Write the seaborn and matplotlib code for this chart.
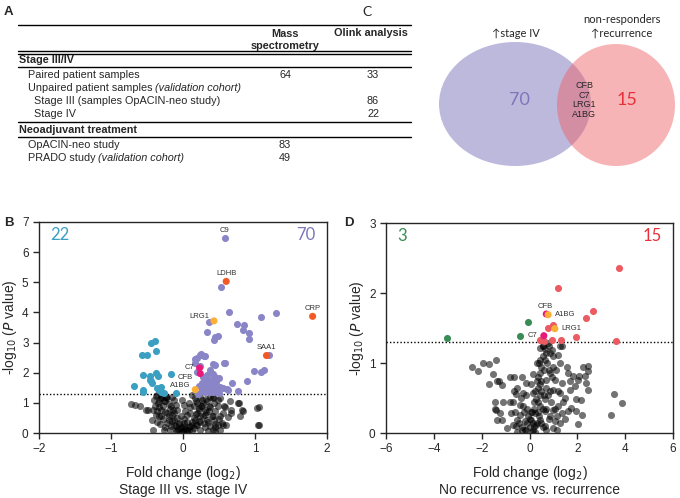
import numpy as np
import pandas as pd
import matplotlib
matplotlib.use('Agg')
import matplotlib.pyplot as plt
import seaborn as sns
from matplotlib.patches import Ellipse
from matplotlib.lines import Line2D

sns.set_style('ticks')
plt.rcParams['font.family'] = ['Liberation Sans', 'DejaVu Sans']

# ---------------- data ----------------
# table (panel A)
tbl_rows = ['Paired patient samples', 'Unpaired patient samples', 'Stage III (samples OpACIN-neo study)',
            'Stage IV', 'OpACIN-neo study', 'PRADO study']
tbl_ms = ['64', '', '', '', '83', '49']
tbl_olink = ['33', '', '86', '22', '', '']

# venn (panel C)
venn_counts = [70, 15]
venn_shared = ['CFB', 'C7', 'LRG1', 'A1BG']

# panel B: stage III vs stage IV
b_grey_x = [-0.72, -0.66, -0.51, -0.41, -0.40, -0.36, -0.29, -0.01, 0.13, 0.24, 0.38, 0.52, 0.65, 0.76, 0.84,
            0.79, 1.03, 1.04, 0.62, 0.43, 0.38, 0.52, 0.54, 0.31, -0.41, -0.36, -0.31, -0.22, -0.13, -0.10,
            -0.03, 0.03, 0.06, 0.10, 0.15, 0.20, 0.24, 0.29, 0.34, 0.48, 0.66, 0.24, -0.27, -0.22, -0.17,
            -0.13, -0.27, -0.31, -0.08, -0.03, 0.01, 0.00, 0.08, 0.13, 0.17, 0.20, 0.27, 0.36, 0.43, 0.45,
            0.52, 0.48, 0.41, -0.15, -0.10, -0.22, 0.03, 0.08, -0.06, 0.17, 0.27, 0.15, 0.34, -0.43, -0.34,
            -0.20, -0.17, -0.08, 0.01, 0.05, 0.10, 0.20, 0.24, 0.31, 0.41, 0.36, 0.22, -0.36, -0.39, -0.34,
            -0.60, -0.49, -0.37, -0.31, -0.23, 0.01, -0.14, 0.78, 0.82, 1.06, 1.06, 0.66, 0.57, 0.48, 0.41,
            0.55, 0.45,
            -0.30, -0.25, -0.20, -0.28, -0.18, -0.25, -0.12, -0.20, -0.08, -0.15, -0.05, -0.12, -0.02, -0.07,
            0.00, -0.03, -0.10, -0.18, -0.25, -0.32, -0.28, -0.38, -0.33, -0.23, -0.15, -0.35,
            0.05, 0.08, 0.12, 0.15, 0.18, 0.22, 0.25, 0.28, 0.32, 0.12, 0.18, 0.22, 0.28, 0.32, 0.38, 0.42,
            0.30, 0.35, 0.40, 0.45, 0.50, 0.55, 0.58, 0.18, 0.10, 0.05, 0.02, 0.35, 0.45, 0.60]
b_grey_y = [0.96, 0.94, 0.75, 0.75, 1.10, 1.27, 1.27, 1.10, 1.27, 1.21, 1.21, 1.16, 1.05, 0.99, 0.72,
            0.57, 0.83, 0.28, 0.53, 0.44, 0.22, 0.11, 0.33, 0.77, 0.11, 0.38, 0.55, 0.66, 0.44, 0.22,
            0.16, 0.13, 0.38, 0.66, 0.88, 0.99, 0.55, 0.33, 1.05, 0.88, 0.77, 0.11, 0.11, 0.33, 0.88,
            1.10, 1.05, 0.77, 0.77, 0.55, 0.33, 0.05, 0.11, 0.28, 0.44, 0.66, 0.88, 0.72, 0.99, 0.72,
            0.55, 0.28, 0.11, 0.61, 0.94, 1.16, 0.72, 0.99, 0.33, 1.16, 1.10, 0.16, 0.44, 0.44, 0.55,
            0.44, 0.22, 0.11, 0.22, 0.05, 0.22, 0.28, 0.38, 0.61, 0.55, 0.88, 0.83, 0.72, 0.88, 1.05,
            0.88, 0.75, 1.24, 1.21, 1.21, 0.94, 0.77, 0.99, 0.77, 0.86, 0.26, 0.68, 0.90, 1.10, 1.19,
            0.28, 0.20,
            1.15, 1.05, 0.95, 0.90, 0.80, 0.70, 0.65, 0.55, 0.50, 0.40, 0.30, 0.25, 0.20, 0.12,
            0.08, 0.02, 0.05, 0.10, 0.20, 0.30, 0.45, 0.60, 0.85, 1.18, 1.20, 1.00,
            0.10, 0.20, 0.35, 0.50, 0.62, 0.75, 0.90, 1.00, 1.12, 0.05, 0.25, 0.40, 0.55, 0.70, 0.85, 1.15,
            0.20, 0.35, 0.55, 0.30, 0.45, 0.65, 0.85, 1.05, 0.85, 0.60, 0.45, 0.05, 0.05, 0.25]
b_down_x = [-0.39, -0.45, -0.37, -0.57, -0.50, -0.55, -0.46, -0.38, -0.35, -0.46, -0.44, -0.16, -0.68,
            -0.55, -0.36, -0.31, -0.33, -0.10, -0.31, -0.43, -0.27, -0.56]
b_down_y = [3.06, 2.98, 2.73, 2.60, 2.60, 1.91, 1.88, 1.99, 1.90, 1.77, 1.71, 1.97, 1.55,
            1.41, 1.49, 1.53, 1.41, 1.33, 1.35, 1.66, 1.33, 1.36]
b_up_x = [0.58, 0.53, 0.64, 0.36, 1.08, 1.29, 0.75, 0.85, 0.83, 0.92, 0.91, 0.34, 0.45, 0.49, 0.43,
          0.25, 0.29, 0.17, 0.17, 0.41, 0.57, 0.24, 0.37, 0.19, 0.42, 0.45, 0.50, 0.33, 0.99, 1.08,
          1.13, 0.89, 0.68, 0.61, 0.77, 0.27, 0.34, 0.27, 0.37, 0.43, 0.48, 0.31, 0.41, 0.52, 1.20,
          0.20, 0.24, 0.30, 0.45, 0.58, 0.62, 0.50, 0.37, 0.35, 0.40, 0.30, 0.46, 0.22, 0.28, 0.39,
          0.33, 0.44, 0.26, 0.36, 0.47, 0.31, 0.55, 0.21, 0.42, 0.29]
b_up_y = [6.47, 4.86, 4.00, 3.68, 3.85, 3.97, 3.61, 3.57, 3.43, 3.33, 3.12, 3.35, 3.20, 3.23, 3.07,
          2.63, 2.56, 2.47, 2.32, 2.30, 2.32, 2.21, 2.10, 2.01, 1.96, 1.86, 1.81, 1.79, 2.07, 2.04,
          2.09, 1.72, 1.66, 1.47, 1.39, 1.66, 1.59, 1.44, 1.44, 1.49, 1.44, 1.35, 1.35, 1.52, 2.60,
          2.49, 2.60, 2.54, 2.27, 2.32, 1.44, 1.33, 1.35, 1.75, 1.62, 1.52, 1.70, 1.55, 1.85, 1.40,
          1.92, 1.58, 1.38, 1.68, 1.36, 1.62, 1.50, 1.31, 1.78, 1.47]
b_hl_name = ['LDHB', 'CRP', 'SAA1', 'LRG1', 'C7', 'CFB', 'A1BG']
b_hl_x = [0.60, 1.80, 1.16, 0.43, 0.23, 0.24, 0.17]
b_hl_y = [5.03, 3.87, 2.57, 3.72, 2.16, 1.97, 1.44]
b_hl_col = ['#f15a24', '#f15a24', '#f15a24', '#fbb034', '#e8197b', '#e8197b', '#fbb034']

# panel D: no recurrence vs recurrence
d_grey_x = [-2.42, -2.15, -1.96, -1.70, -1.42, -1.52, -1.69, -1.35, -1.13, -0.82, -0.66, -0.33, -0.15,
            -0.54, -0.29, -0.57, -0.27, -1.45, -1.10, -1.41, -1.24, -0.79, -1.13, -1.35, -0.96, -0.68,
            -0.54, -0.54, -0.41, -0.33, -0.20, -0.13, 0.01, 0.15, 0.29, 0.08, -0.06, 0.22, 0.43, 0.57,
            0.71, 0.99, 1.06, 0.85, 0.64, 0.43, 0.29, 0.15, 0.36, 0.50, 0.43, 0.50, 0.64, 0.71, 0.57,
            0.78, 0.92, 1.19, 1.27, 1.34, 0.99, 0.85, 0.71, 1.06, 0.99, 0.78, 0.64, 1.27, 1.34, 1.55,
            1.61, 1.68, 1.82, 2.03, 1.89, 1.68, 1.47, 1.19, 1.34, 1.13, 0.99, 1.27, 1.13, 1.93, 2.17,
            1.96, 1.61, 1.72, 2.21, 2.03, 2.24, 2.45, 2.45, 2.31, 2.38, 2.45, 2.06, 3.52, 3.87, 3.42,
            0.43, 0.57, 0.82, 1.27, -1.27, -1.45, 0.20, 0.35, 0.50, 0.60, 0.40, 0.70, 0.90, 0.30, -0.10,
            -0.40, -0.60, -0.70, 0.15, 0.05, -0.20, 0.25, 0.80, 1.00, 0.55, 0.45,
            0.10, 0.20, 0.25, 0.35, 0.45, 0.55, 0.65, 0.75, 0.85, 0.40, 0.30, 0.20, 0.00, -0.10, -0.25,
            -0.35, -0.45, -0.15, 0.05, 0.15, 0.30, 0.45, 0.60, 0.70, 0.85, 0.95, 1.10, 1.20, 1.40, 0.50,
            0.65, 0.80, -0.55, -0.30, 0.10, 0.35, 1.05, 1.50, -0.80, -0.65]
d_grey_y = [0.95, 0.88, 1.00, 0.99, 1.05, 0.85, 0.70, 0.74, 0.68, 0.80, 0.80, 0.80, 0.71,
            0.64, 0.57, 0.56, 0.38, 0.44, 0.44, 0.33, 0.29, 0.28, 0.19, 0.19, 0.07, 0.12,
            0.02, 0.19, 0.26, 0.09, 0.17, 0.05, 0.09, 0.05, 0.12, 0.19, 0.24, 0.29, 0.19, 0.09,
            0.05, 0.07, 0.17, 0.24, 0.31, 0.38, 0.48, 0.57, 0.64, 0.74, 0.86, 0.95, 1.05, 1.14, 1.24,
            1.29, 1.19, 1.12, 1.00, 1.24, 0.95, 0.86, 0.76, 0.76, 0.62, 0.55, 0.48, 0.57, 0.71, 0.95,
            0.86, 0.74, 0.81, 0.76, 0.67, 0.62, 0.50, 0.38, 0.29, 0.24, 0.33, 0.14, 0.05, 0.48, 0.47,
            0.31, 0.31, 0.36, 0.26, 0.13, 0.95, 0.96, 0.88, 0.81, 0.71, 0.62, 0.82, 0.56, 0.43, 0.26,
            1.21, 1.25, 1.24, 1.25, 0.75, 0.35, 0.35, 0.30, 0.60, 0.90, 1.00, 0.65, 0.45, 0.75, 0.35,
            0.40, 0.30, 0.45, 0.15, 0.30, 0.05, 0.02, 0.90, 1.10, 0.35, 0.55,
            0.30, 0.45, 0.60, 0.80, 0.70, 1.10, 1.20, 1.00, 1.15, 0.25, 0.15, 0.10, 0.20, 0.15, 0.30,
            0.50, 0.15, 0.55, 0.70, 0.85, 1.00, 1.05, 0.55, 0.35, 0.60, 0.80, 0.90, 0.60, 0.45, 0.15,
            0.10, 0.20, 0.10, 0.05, 0.02, 0.45, 0.35, 0.20, 0.45, 0.60]
d_down_x = [-3.44, -0.38, -0.07]
d_down_y = [1.36, 1.38, 1.58]
d_up_x = [3.75, 1.20, 2.66, 2.38, 1.00, 0.78, 0.96, 1.30, 1.94, 3.61, 0.60, 0.43]
d_up_y = [2.36, 2.07, 1.75, 1.65, 1.54, 1.50, 1.33, 1.33, 1.37, 1.32, 1.31, 1.33]
d_hl_name = ['CFB', 'A1BG', 'LRG1', 'C7']
d_hl_x = [0.70, 0.78, 1.06, 0.60]
d_hl_y = [1.70, 1.69, 1.49, 1.39]
d_hl_col = ['#e8197b', '#fbb034', '#fbb034', '#e8197b']

p_cut = -np.log10(0.05)

# ---------------- figure ----------------
W, H = 680, 498
fig = plt.figure(figsize=(W / 100, H / 100), dpi=100)

# overlay in pixel coords for table + venn
ov = fig.add_axes([0, 0, 1, 1], zorder=0)
ov.set_xlim(0, W)
ov.set_ylim(H, 0)
ov.axis('off')
ov.patch.set_alpha(0)

fs_t = 7.8
ov.text(4, 12, 'A', fontsize=9.5, fontweight='bold', va='center')
for yy in [25, 51, 54, 67, 122, 137]:
    ov.add_line(Line2D([18, 411], [yy, yy], color='black', lw=1.0))
ov.text(285, 39.5, 'Mass\nspectrometry', fontsize=fs_t, fontweight='bold', ha='center', va='center',
        linespacing=1.25)
ov.text(371, 33, 'Olink analysis', fontsize=fs_t, fontweight='bold', ha='center', va='center')
ov.text(19, 60, 'Stage III/IV', fontsize=fs_t, fontweight='bold', va='center')
ov.text(19, 130, 'Neoadjuvant treatment', fontsize=fs_t, fontweight='bold', va='center')
row_y = [75, 88, 101, 114, 145, 158]
row_x = [28, 28, 34, 34, 28, 28]
italic_tail = {1: '(validation cohort)', 5: '(validation cohort)'}
for i, name in enumerate(tbl_rows):
    t = ov.text(row_x[i], row_y[i], name, fontsize=fs_t, va='center')
    if i in italic_tail:
        ov.annotate(italic_tail[i], xy=(1, 0.5), xycoords=t, xytext=(2, 0), textcoords='offset points',
                    fontsize=fs_t, style='italic', va='center', ha='left')
    ov.text(285, row_y[i], tbl_ms[i], fontsize=fs_t, ha='center', va='center')
    ov.text(373, row_y[i], tbl_olink[i], fontsize=fs_t, ha='center', va='center')

# venn
ov.text(362, 12, 'C', fontsize=10, va='center', family='Lato')
ov.add_patch(Ellipse((515, 104), 152, 124, facecolor='#bdb9dc', edgecolor='none'))
ov.add_patch(Ellipse((616, 105), 118, 122, facecolor='#ee5a60', edgecolor='none', alpha=0.45))
ov.text(516, 33, '\u2191stage IV', fontsize=8, ha='center', va='center', family=['Lato', 'DejaVu Sans'])
ov.text(622, 26, 'non-responders\n\u2191recurrence', fontsize=8, ha='center', va='center',
        family=['Lato', 'DejaVu Sans'], linespacing=1.3)
ov.text(519, 100, str(venn_counts[0]), fontsize=13, color='#7d76b9', ha='center', va='center', family='Lato')
ov.text(627, 100, str(venn_counts[1]), fontsize=13, color='#e8303a', ha='center', va='center', family='Lato')
ov.text(584, 100, '\n'.join(venn_shared), fontsize=6.5, ha='center', va='center', linespacing=1.05)


def volcano(ax, gx, gy, dx, dy, ux, uy, dcol, ucol, hl_name, hl_x, hl_y, hl_col, s=26):
    grey = pd.DataFrame({'x': gx, 'y': gy})
    down = pd.DataFrame({'x': dx, 'y': dy})
    up = pd.DataFrame({'x': ux, 'y': uy})
    hl = pd.DataFrame({'x': hl_x, 'y': hl_y, 'name': hl_name, 'col': hl_col})
    sns.scatterplot(data=grey, x='x', y='y', ax=ax, color='black', alpha=0.55, s=s, linewidth=0)
    sns.scatterplot(data=down, x='x', y='y', ax=ax, color=dcol, s=s, linewidth=0)
    sns.scatterplot(data=up, x='x', y='y', ax=ax, color=ucol, s=s, linewidth=0)
    sns.scatterplot(data=hl, x='x', y='y', ax=ax, hue='name', palette=dict(zip(hl_name, hl_col)),
                    s=s, linewidth=0, legend=False)
    ax.axhline(p_cut, color='black', lw=1, ls=(0, (1, 1.5)), zorder=0.5)
    for sp in ax.spines.values():
        sp.set_linewidth(1.0)
    ax.tick_params(labelsize=8.5, width=1, length=4)
    ax.set_ylabel('-log$_{10}$ ($P$ value)', fontsize=10, labelpad=2)


# panel B
axB = fig.add_axes([39 / W, 1 - 433 / H, 288 / W, 211 / H])
volcano(axB, b_grey_x, b_grey_y, b_down_x, b_down_y, b_up_x, b_up_y, '#3b9fc1', '#8a85c7',
        b_hl_name, b_hl_x, b_hl_y, b_hl_col)
axB.set_xlim(-2, 2)
axB.set_ylim(0, 7)
axB.set_xticks([-2, -1, 0, 1, 2])
axB.set_yticks(range(8))
axB.set_xlabel('Fold change (log$_2$)\nStage III vs. stage IV', fontsize=10, linespacing=1.15, labelpad=6)
axB.text(0.04, 0.94, str(len(b_down_x)), transform=axB.transAxes, fontsize=12, color='#3b9fc1',
         va='center', family='Lato')
axB.text(0.96, 0.94, str(venn_counts[0]), transform=axB.transAxes, fontsize=12, color='#7d76b9',
         va='center', ha='right', family='Lato')
b_lab = {'C9': (0.58, 6.47, 0, 5.5, 'center'), 'LDHB': (0.60, 5.03, 0, 5.5, 'center'),
         'CRP': (1.80, 3.87, 0, 5.5, 'center'), 'SAA1': (1.16, 2.57, 0, 5.5, 'center'),
         'LRG1': (0.43, 3.72, -3, 3.5, 'right'), 'C7': (0.23, 2.16, -3.5, 0, 'right'),
         'CFB': (0.24, 1.97, -5, -3, 'right'), 'A1BG': (0.17, 1.44, -3.5, 3, 'right')}
for k, (x, y, ox, oy, ha) in b_lab.items():
    axB.annotate(k, (x, y), xytext=(ox, oy), textcoords='offset points', fontsize=5.5, ha=ha,
                 va='center', color='#333333')
fig.text(4 / W, 1 - 223 / H, 'B', fontsize=9.5, fontweight='bold', va='center')

# panel D
axD = fig.add_axes([386 / W, 1 - 433 / H, 287 / W, 210 / H])
volcano(axD, d_grey_x, d_grey_y, d_down_x, d_down_y, d_up_x, d_up_y, '#3a8c57', '#ec5a62',
        d_hl_name, d_hl_x, d_hl_y, d_hl_col)
axD.set_xlim(-6, 6)
axD.set_ylim(0, 3)
axD.set_xticks([-6, -4, -2, 0, 2, 4, 6])
axD.set_yticks([0, 1, 2, 3])
axD.set_xlabel('Fold change (log$_2$)\nNo recurrence vs. recurrence', fontsize=10, linespacing=1.15,
               labelpad=6)
axD.text(0.04, 0.94, str(len(d_down_x)), transform=axD.transAxes, fontsize=12, color='#3a8c57',
         va='center', family='Lato')
axD.text(0.96, 0.94, str(venn_counts[1]), transform=axD.transAxes, fontsize=12, color='#e8303a',
         va='center', ha='right', family='Lato')
d_lab = {'CFB': (0.70, 1.70, -1, 5.5, 'center'), 'A1BG': (0.78, 1.69, 5, 0, 'left'),
         'LRG1': (1.06, 1.49, 5, 0, 'left'), 'C7': (0.60, 1.39, -4.5, 0, 'right')}
for k, (x, y, ox, oy, ha) in d_lab.items():
    axD.annotate(k, (x, y), xytext=(ox, oy), textcoords='offset points', fontsize=5.5, ha=ha,
                 va='center', color='#333333')
fig.text(344 / W, 1 - 223 / H, 'D', fontsize=9.5, fontweight='bold', va='center')

fig.savefig('out.png', dpi=100)
